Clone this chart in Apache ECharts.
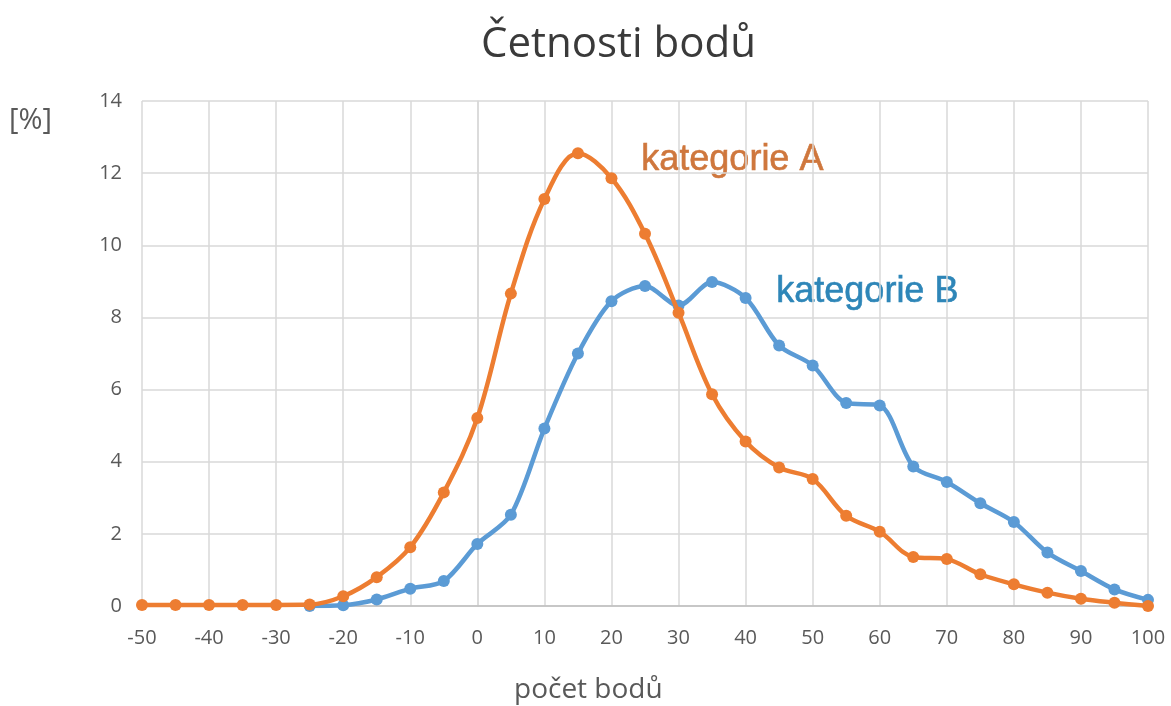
<!DOCTYPE html>
<html>
<head>
<meta charset="utf-8">
<title>Četnosti bodů</title>
<script src="https://cdn.jsdelivr.net/npm/echarts@6/dist/echarts.min.js"></script>
<style>
  html, body { margin: 0; padding: 0; background: #fff; }
  #chart { width: 1171px; height: 706px; }
</style>
</head>
<body>
<div id="chart"></div>
<script>
// body (x) a četnosti v procentech
const bodyX = [-50, -45, -40, -35, -30, -25, -20, -15, -10, -5, 0, 5, 10, 15, 20, 25, 30,
  35, 40, 45, 50, 55, 60, 65, 70, 75, 80, 85, 90, 95, 100];
const kategorieA = [0.03, 0.03, 0.03, 0.03, 0.03, 0.04, 0.27, 0.80, 1.63, 3.15, 5.21, 8.66,
  11.28, 12.55, 11.86, 10.32, 8.13, 5.87, 4.56, 3.84, 3.52, 2.50, 2.06, 1.36, 1.30, 0.88,
  0.60, 0.37, 0.20, 0.09, 0.0];
const kategorieB = [null, null, null, null, null, 0.0, 0.02, 0.18, 0.48, 0.69, 1.72, 2.53,
  4.92, 7.00, 8.45, 8.87, 8.33, 8.98, 8.54, 7.22, 6.67, 5.63, 5.56, 3.87, 3.44, 2.85,
  2.33, 1.48, 0.97, 0.46, 0.17];

const pairs = (ys) => bodyX.map((x, i) => [x, ys[i]]);

const chart = echarts.init(document.getElementById('chart'));

const gridColor = '#d9d9d9';
const textColor = '#595959';
const font = '"Open Sans", "Noto Sans", sans-serif';
const labelFont = 'Liberation Sans, Arial, sans-serif';

chart.setOption({
  animation: false,
  grid: { left: 142, right: 23, top: 101, bottom: 100 },
  xAxis: {
    type: 'value',
    min: -50,
    max: 100,
    interval: 10,
    axisLine: { show: true, lineStyle: { color: '#bfbfbf', width: 1.5 } },
    axisTick: { show: false },
    axisLabel: { fontFamily: font, fontSize: 20, color: textColor, margin: 22 },
    splitLine: { show: true, lineStyle: { color: gridColor, width: 1.5 } }
  },
  yAxis: {
    type: 'value',
    min: 0,
    max: 14,
    interval: 2,
    axisLine: { show: true, lineStyle: { color: gridColor, width: 1.5 } },
    axisTick: { show: false },
    axisLabel: { fontFamily: font, fontSize: 20, color: textColor, margin: 20 },
    splitLine: { show: true, lineStyle: { color: gridColor, width: 1.5 } }
  },
  graphic: [
    {
      type: 'text', left: 481, top: 24,
      style: { text: 'Četnosti bodů', fontFamily: font, fontSize: 42, fill: '#3a3a3a' }
    },
    {
      type: 'text', left: 9, top: 106,
      style: { text: '[%]', fontFamily: font, fontSize: 29, fill: textColor }
    },
    {
      type: 'text', left: 514, top: 676,
      style: { text: 'počet bodů', fontFamily: font, fontSize: 28, fill: textColor }
    },
    {
      type: 'text', left: 641, top: 142,
      style: {
        text: 'kategorie A', fontFamily: labelFont, fontSize: 36,
        fill: '#cf773d', stroke: '#cf773d', lineWidth: 0.6,
        shadowColor: 'rgba(0,0,0,0.3)', shadowBlur: 2, shadowOffsetX: 1, shadowOffsetY: 1
      }
    },
    {
      type: 'text', left: 776, top: 274,
      style: {
        text: 'kategorie B', fontFamily: labelFont, fontSize: 36,
        fill: '#2e86b8', stroke: '#2e86b8', lineWidth: 0.6,
        shadowColor: 'rgba(0,0,0,0.25)', shadowBlur: 2, shadowOffsetX: 1, shadowOffsetY: 1
      }
    }
  ],
  series: [
    {
      name: 'kategorie B',
      type: 'line',
      data: pairs(kategorieB),
      smooth: 0.3,
      symbol: 'circle',
      symbolSize: 12,
      lineStyle: { color: '#5b9bd5', width: 4.5 },
      itemStyle: { color: '#5b9bd5' },
      z: 2
    },
    {
      name: 'kategorie A',
      type: 'line',
      data: pairs(kategorieA),
      smooth: 0.35,
      symbol: 'circle',
      symbolSize: 12,
      lineStyle: { color: '#ed7d31', width: 4.5 },
      itemStyle: { color: '#ed7d31' },
      z: 3
    }
  ]
});
</script>
</body>
</html>
